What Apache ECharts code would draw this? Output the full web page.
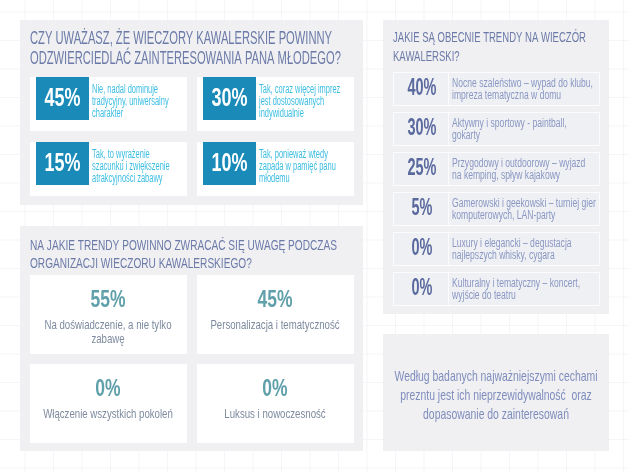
<!DOCTYPE html>
<html>
<head>
<meta charset="utf-8">
<script src="https://cdn.jsdelivr.net/npm/echarts@6/dist/echarts.min.js"></script>
<style>
  html, body { margin: 0; padding: 0; background: #fff; }
  #container { width: 629px; height: 472px; }
</style>
</head>
<body>
<div id="container"></div>
<script>
// --- data ---
var q1Title = ['CZY UWAŻASZ, ŻE WIECZORY KAWALERSKIE POWINNY', 'ODZWIERCIEDLAĆ ZAINTERESOWANIA PANA MŁODEGO?'];
var q1Values = [45, 30, 15, 10];
var q1Labels = [
    'Nie, nadal dominuje\ntradycyjny, uniwersalny\ncharakter',
    'Tak, coraz więcej imprez\njest dostosowanych\nindywidualnie',
    'Tak, to wyrażenie\nszacunku i zwiększenie\natrakcyjności zabawy',
    'Tak, ponieważ wtedy\nzapada w pamięć panu\nmłodemu'
];

var trendTitle = ['JAKIE SĄ OBECNIE TRENDY NA WIECZÓR', 'KAWALERSKI?'];
var trendValues = [40, 30, 25, 5, 0, 0];
var trendLabels = [
    'Nocne szaleństwo – wypad do klubu,\nimpreza tematyczna w domu',
    'Aktywny i sportowy - paintball,\ngokarty',
    'Przygodowy i outdoorowy – wyjazd\nna kemping, spływ kajakowy',
    'Gamerowski i geekowski – turniej gier\nkomputerowych, LAN-party',
    'Luxury i elegancki – degustacja\nnajlepszych whisky, cygara',
    'Kulturalny i tematyczny – koncert,\nwyjście do teatru'
];

var q3Title = ['NA JAKIE TRENDY POWINNO ZWRACAĆ SIĘ UWAGĘ PODCZAS', 'ORGANIZACJI WIECZORU KAWALERSKIEGO?'];
var q3Values = [55, 45, 0, 0];
var q3Labels = [
    'Na doświadczenie, a nie tylko\nzabawę',
    'Personalizacja i tematyczność',
    'Włączenie wszystkich pokoleń',
    'Luksus i nowoczesność'
];

var noteText = 'Według badanych najważniejszymi cechami\nprezntu jest ich nieprzewidywalność  oraz\ndopasowanie do zainteresowań';

// --- helpers ---
var FONT = '"Liberation Sans", Arial, sans-serif';
var measure = document.createElement('canvas').getContext('2d');

// horizontal squeeze so a sample string gets the width it has in the picture
function fitScale(str, size, weight, width) {
    measure.font = weight + ' ' + size + 'px ' + FONT;
    return width / measure.measureText(str).width;
}

function rect(x, y, w, h, fill, stroke) {
    return {
        type: 'rect', silent: true,
        shape: {x: x, y: y, width: w, height: h},
        style: {fill: fill, stroke: stroke || null, lineWidth: stroke ? 1 : 0}
    };
}

function text(x, y, str, size, color, o) {
    o = o || {};
    var align = o.align || 'left';
    var valign = o.valign || 'middle';
    return {
        type: 'text', silent: true,
        x: x, y: y, scaleX: o.scaleX || 0.8,
        style: {
            text: str,
            fontSize: size,
            fontFamily: FONT,
            fontWeight: o.weight || 'normal',
            lineHeight: o.lineHeight || size * 1.2,
            fill: color,
            align: align, verticalAlign: valign,
            textAlign: align, textVerticalAlign: valign
        }
    };
}

function title(lines, x, y0, gap, size, width) {
    var s = fitScale(lines[0], size, 'normal', width);
    return lines.map(function (l, i) {
        return text(x, y0 + i * gap, l, size, '#6b7aa8', {scaleX: s});
    });
}

var sQ1Num = fitScale('45%', 25, 'bold', 36);
var sQ1Txt = fitScale('Nie, nadal dominuje', 12, 'normal', 66);
var sTrNum = fitScale('40%', 23, 'bold', 29);
var sTrTxt = fitScale('Nocne szaleństwo – wypad do klubu,', 12.5, 'normal', 141);
var sQ3Num = fitScale('55%', 24, 'bold', 35);
var sQ3Txt = fitScale('Na doświadczenie, a nie tylko', 13.5, 'normal', 127);

var els = [];

// faint background grid
for (var gx = 25; gx < 629; gx += 28.5) {
    els.push({type: 'line', silent: true, shape: {x1: gx, y1: 0, x2: gx, y2: 472}, style: {stroke: '#f5f5f7', lineWidth: 1}});
}
for (var gy = 12; gy < 472; gy += 28.5) {
    els.push({type: 'line', silent: true, shape: {x1: 0, y1: gy, x2: 629, y2: gy}, style: {stroke: '#f5f5f7', lineWidth: 1}});
}

// panel 1
els.push(rect(20, 20, 343, 185, '#f0f0f2'));
els = els.concat(title(q1Title, 30, 39, 20, 17.5, 302));
q1Values.forEach(function (v, i) {
    var cx = i % 2 === 0 ? 30 : 197;
    var cy = i < 2 ? 77 : 142;
    els.push(rect(cx, cy, 157, 54, '#ffffff'));
    els.push(rect(cx + 6, cy, 53, 43, '#1a8bb9'));
    els.push(text(cx + 32.5, cy + 22.5, v + '%', 25, '#ffffff', {align: 'center', weight: 'bold', scaleX: sQ1Num}));
    els.push(text(cx + 62, cy + 25, q1Labels[i], 12, '#3bbde2', {lineHeight: 12, scaleX: sQ1Txt}));
});

// panel 2
els.push(rect(383, 20, 226, 294, '#f0f0f2'));
els = els.concat(title(trendTitle, 393, 38, 19, 15.5, 193));
trendValues.forEach(function (v, i) {
    var ry = 72 + i * 40;
    els.push(rect(393.5, ry + 0.5, 206, 33, '#eef0f4', '#fcfcfe'));
    els.push({type: 'line', silent: true, shape: {x1: 448.5, y1: ry, x2: 448.5, y2: ry + 34}, style: {stroke: '#fcfcfe', lineWidth: 1}});
    els.push(text(422, ry + 17, v + '%', 23, '#5b6a9e', {align: 'center', weight: 'bold', scaleX: sTrNum}));
    els.push(text(452, ry + 17.5, trendLabels[i], 12.5, '#8a97c2', {lineHeight: 12.5, scaleX: sTrTxt}));
});

// panel 3
els.push(rect(20, 226, 343, 225, '#f0f0f2'));
els = els.concat(title(q3Title, 30, 246, 18, 15.5, 307));
q3Values.forEach(function (v, i) {
    var cx = i % 2 === 0 ? 30 : 197;
    var cy = i < 2 ? 275 : 364;
    els.push(rect(cx, cy, 157, 79, '#ffffff'));
    els.push(text(cx + 78, cy + 25, v + '%', 24, '#5fa0aa', {align: 'center', weight: 'bold', scaleX: sQ3Num}));
    els.push(text(cx + 78, cy + 43, q3Labels[i], 13.5, '#7d8a9e', {align: 'center', valign: 'top', lineHeight: 14, scaleX: sQ3Txt}));
});

// panel 4
els.push(rect(383, 334, 226, 117, '#f0f0f2'));
els.push(text(496, 396, noteText, 15, '#7f8dbd', {
    align: 'center', lineHeight: 19,
    scaleX: fitScale('Według badanych najważniejszymi cechami', 15, 'normal', 203)
}));

var dom = document.getElementById('container');
var myChart = echarts.init(dom, null, {renderer: 'canvas'});
var option = {
    backgroundColor: '#ffffff',
    animation: false,
    graphic: {elements: els}
};
myChart.setOption(option, true);
window.addEventListener('resize', function () {
    myChart.resize();
});
</script>
</body>
</html>
